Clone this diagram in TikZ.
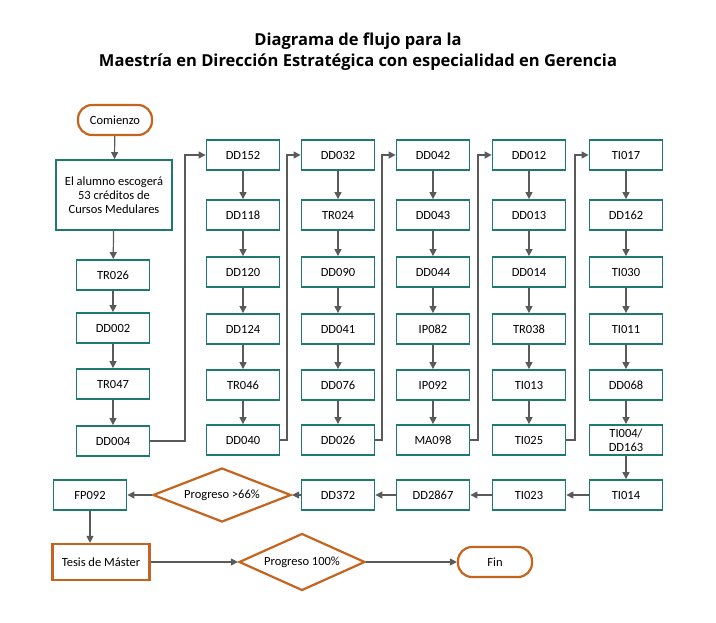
\documentclass[tikz,border=0pt]{standalone}
\usepackage{fontspec}
\setmainfont{Carlito}
\newfontfamily\titlefont{Open Sans}
\usetikzlibrary{shapes.geometric,arrows.meta}
\definecolor{teal}{HTML}{1E7A6C}
\definecolor{org}{HTML}{C5641E}
\definecolor{ln}{HTML}{5A5A5A}
\tikzset{
 box/.style={draw=teal,line width=1.8pt,minimum width=73pt,minimum height=30pt,inner sep=1pt,font=\fontsize{12.5}{14}\selectfont,align=center},
 obox/.style={draw=org,line width=2.2pt,minimum height=36pt,inner sep=2pt,font=\fontsize{12.5}{14}\selectfont},
 term/.style={draw=org,line width=2.2pt,rounded corners=14pt,minimum width=74pt,minimum height=30pt,font=\fontsize{12.5}{14}\selectfont},
 dia/.style={draw=org,line width=2.2pt,diamond,aspect=2.5,inner sep=0pt,font=\fontsize{12.5}{14}\selectfont},
 ar/.style={draw=ln,line width=1.2pt,-{Triangle[length=7pt,width=7pt]}},
}
\begin{document}
\begin{tikzpicture}[x=1pt,y=-1pt]
\useasboundingbox (0,0) rectangle (716,623);
\node[font=\titlefont\bfseries\fontsize{16.5}{21}\selectfont,align=center] at (358,52) {Diagrama de flujo para la\\Maestría en Dirección Estratégica con especialidad en Gerencia};
\node[term] (c) at (115,120) {Comienzo};
\node[box,minimum width=116pt,minimum height=70pt] (t) at (114,195) {El alumno escogerá\\53 créditos de\\Cursos Medulares};
\node[box] (a1) at (113,275) {TR026};
\node[box] (a2) at (113,328) {DD002};
\node[box] (a3) at (113,384) {TR047};
\node[box] (a4) at (113,441) {DD004};
\draw[ar] (c) -- (t); \draw[ar] (t) -- (a1); \draw[ar] (a1) -- (a2); \draw[ar] (a2) -- (a3); \draw[ar] (a3) -- (a4);
\foreach \c/\x/\la/\lb/\lc/\ld/\le/\lf in {
 b/243/DD152/DD118/DD120/DD124/TR046/DD040,
 d/338/DD032/TR024/DD090/DD041/DD076/DD026,
 e/433/DD042/DD043/DD044/IP082/IP092/MA098,
 f/529/DD012/DD013/DD014/TR038/TI013/TI025,
 g/626/TI017/DD162/TI030/TI011/DD068/{TI004/\\DD163}}{
 \node[box] (\c1) at (\x,155) {\la};
 \node[box] (\c2) at (\x,215) {\lb};
 \node[box] (\c3) at (\x,272) {\lc};
 \node[box] (\c4) at (\x,329) {\ld};
 \node[box] (\c5) at (\x,385) {\le};
 \node[box] (\c6) at (\x,440) {\lf};
 \draw[ar] (\c1) -- (\c2); \draw[ar] (\c2) -- (\c3); \draw[ar] (\c3) -- (\c4);
 \draw[ar] (\c4) -- (\c5); \draw[ar] (\c5) -- (\c6);
}
\draw[ar] (a4.east) -| (185,155) -- (b1.west);
\draw[ar] (b6.east) -| (287,155) -- (d1.west);
\draw[ar] (d6.east) -| (382,155) -- (e1.west);
\draw[ar] (e6.east) -| (478,155) -- (f1.west);
\draw[ar] (f6.east) -| (575,155) -- (g1.west);
\node[box] (h1) at (626,495) {TI014};
\node[box] (h2) at (529,495) {TI023};
\node[box] (h3) at (433,495) {DD2867};
\node[box] (h4) at (338,495) {DD372};
\node[dia,minimum width=138pt,minimum height=54pt] (p1) at (222,495) {Progreso >66\%};
\node[box] (h5) at (90,495) {FP092};
\draw[ar] (g6) -- (h1); \draw[ar] (h1) -- (h2); \draw[ar] (h2) -- (h3); \draw[ar] (h3) -- (h4); \draw[ar] (h4) -- (p1); \draw[ar] (p1) -- (h5);
\node[obox,minimum width=97pt] (ts) at (101,562) {Tesis de Máster};
\node[dia,minimum width=126pt,minimum height=57pt] (p2) at (302,562) {Progreso 100\%};
\node[term] (fin) at (495,562) {Fin};
\draw[ar] (h5) -- (h5|-ts.north);
\draw[ar] (ts) -- (p2); \draw[ar] (p2) -- (fin);
\end{tikzpicture}
\end{document}
